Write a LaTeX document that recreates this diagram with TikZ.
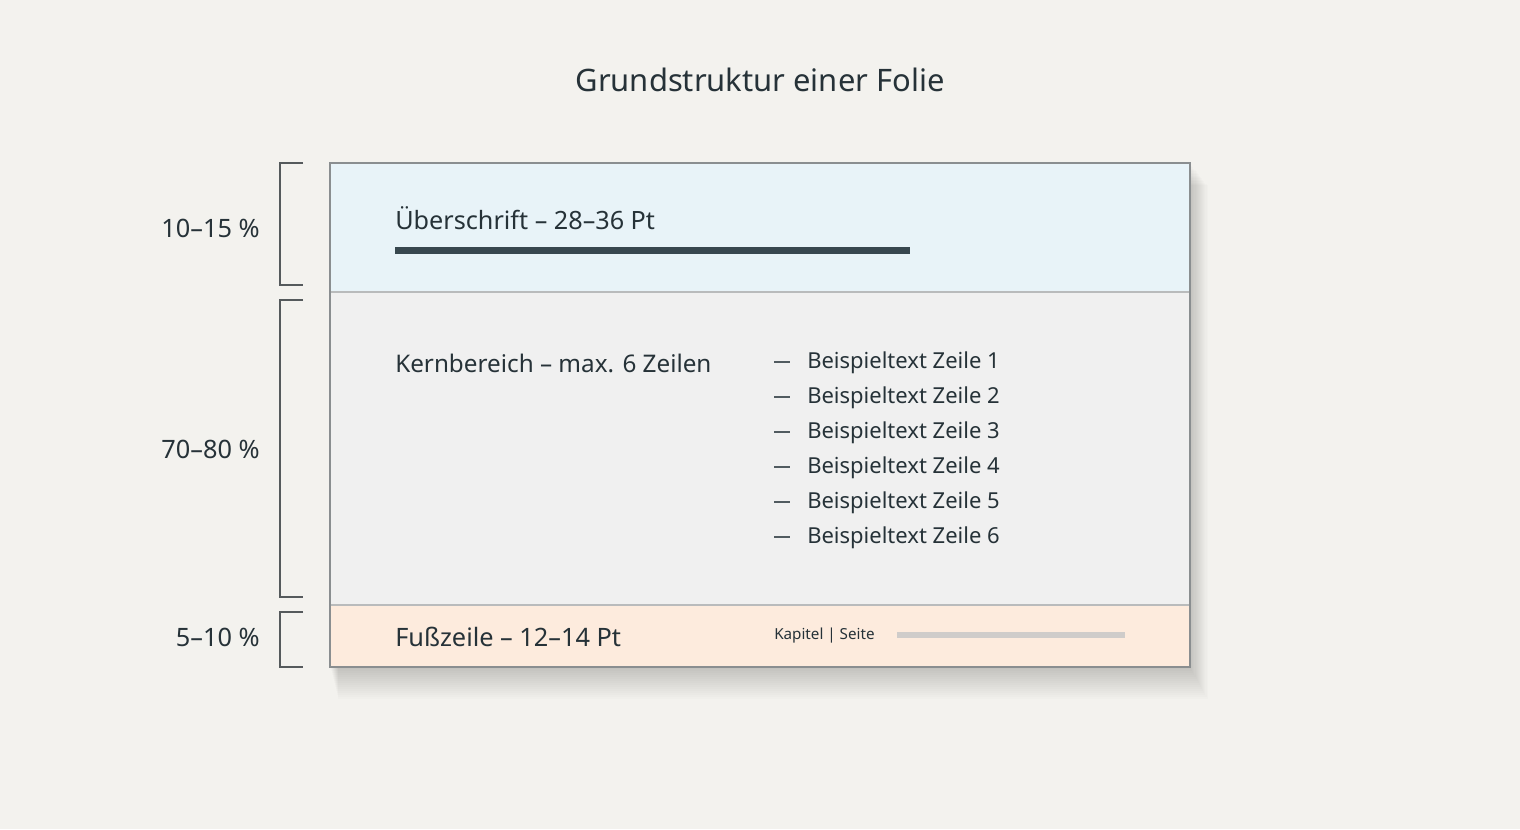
\documentclass[tikz,border=0pt]{standalone}
\usepackage{fontspec}
\setmainfont{Noto Sans}
\definecolor{bg}{HTML}{F3F2EE}
\definecolor{ink}{HTML}{263238}
\definecolor{hdr}{HTML}{E8F3F8}
\definecolor{body}{HTML}{F0F0F0}
\definecolor{foot}{HTML}{FDEBDD}
\definecolor{frame}{HTML}{8A8E90}
\definecolor{barc}{HTML}{37474F}
\definecolor{fbar}{HTML}{CFCCCA}
\definecolor{brk}{HTML}{555A5C}
\begin{document}
\begin{tikzpicture}[x=0.75pt,y=-0.75pt,
  lbl/.style={anchor=east,font=\fontsize{19}{22}\selectfont,text=ink,inner sep=0pt},
  sec/.style={anchor=west,font=\fontsize{18.2}{22}\selectfont,text=ink,inner sep=0pt},
  item/.style={anchor=west,font=\fontsize{16.5}{20}\selectfont,text=ink,inner sep=0pt},
  bracket/.style={draw=brk,line width=1pt},
  zone/.style={draw=frame!60,line width=0.8pt}]
\fill[bg] (0,0) rectangle (1520,829);
\useasboundingbox (0,0) rectangle (1520,829);
% title
\node[font=\fontsize{23.2}{28}\selectfont,text=ink] (title) at (760,80) {Grundstruktur einer Folie};
% shadow
\foreach \i in {1,...,16}{
  \fill[black,opacity=0.011] (330+\i*0.5,163+\i*1.4) rectangle (1190+\i*1.1,667+\i*2.0);
}
% zones
\fill[hdr] (330,163) rectangle (1190,292);
\fill[body] (330,292) rectangle (1190,605);
\fill[foot] (330,605) rectangle (1190,667);
\draw[zone] (330,292) -- (1190,292);
\draw[zone] (330,605) -- (1190,605);
\draw[draw=frame,line width=1pt] (330,163) rectangle (1190,667);
% header
\node[sec,font=\fontsize{18.9}{22}\selectfont] (head) at (395,218) {Überschrift – 28–36 Pt};
\fill[barc] (395,246.5) rectangle (910,253.5);
% body
\node[sec] (kern) at (395,363) {Kernbereich – max. 6 Zeilen};
\foreach \n in {1,...,6}{
  \node[item] (b\n) at (807,{363+(\n-1)*35}) {Beispieltext Zeile \n};
  \draw[ink!80,line width=0.9pt] (774,{362+(\n-1)*35}) -- (790,{362+(\n-1)*35});
}
% footer
\node[sec,font=\fontsize{19}{22}\selectfont] (fuss) at (395,637) {Fußzeile – 12–14 Pt};
\node[item,font=\fontsize{11.4}{14}\selectfont,text=ink] (kap) at (774,636) {Kapitel | Seite};
\draw[fbar,line width=4.5pt] (897,635) -- (1125,635);
% brackets
\draw[bracket] (303,163) -- (280,163) -- (280,285) -- (303,285);
\draw[bracket] (303,300) -- (280,300) -- (280,597) -- (303,597);
\draw[bracket] (303,612) -- (280,612) -- (280,667) -- (303,667);
\node[lbl] (l1) at (260,228) {10–15 \%};
\node[lbl] (l2) at (260,449) {70–80 \%};
\node[lbl] (l3) at (260,637) {5–10 \%};
\end{tikzpicture}
\end{document}
